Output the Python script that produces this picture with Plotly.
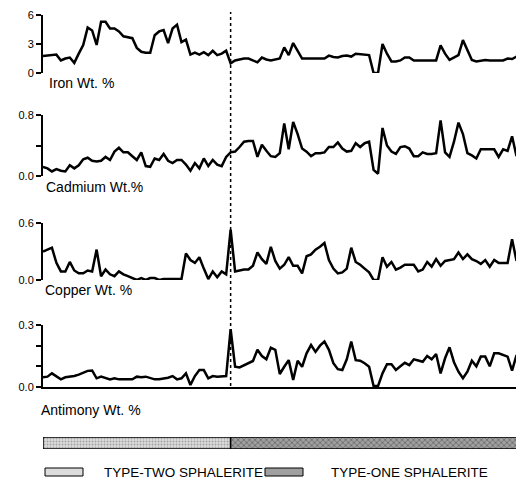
import plotly.graph_objects as go

# ---------------- data (sample index along traverse) ----------------
samples = list(range(108))
boundary_sample = 42  # change from type-two to type-one sphalerite

iron = [1.75, 1.8, 1.85, 1.9, 1.3, 1.5, 1.6, 1.05, 2.0, 2.9,
        4.7, 4.4, 2.9, 5.3, 5.3, 4.6, 4.6, 4.3, 3.8, 3.7,
        3.6, 2.6, 2.2, 2.1, 2.1, 3.9, 4.3, 4.45, 3.1, 4.6,
        5.0, 3.2, 3.45, 1.9, 2.1, 1.9, 2.15, 1.85, 2.3, 1.85,
        2.0, 2.3, 1.0, 1.3, 1.4, 1.5, 1.5, 1.3, 1.1, 1.6,
        1.4, 1.3, 1.4, 1.5, 2.65, 1.85, 3.1, 2.3, 1.5, 1.5,
        1.5, 1.5, 1.5, 1.5, 1.8, 1.65, 1.6, 1.75, 1.8, 1.7,
        2.0, 1.95, 1.9, 1.85, 0.0, 0.0, 3.0, 2.0, 1.2, 1.2,
        1.3, 1.6, 1.6, 1.3, 1.3, 1.3, 1.3, 1.3, 1.3, 2.85,
        2.0, 1.35, 1.6, 1.85, 3.4, 2.3, 1.35, 1.2, 1.3, 1.35,
        1.3, 1.3, 1.25, 1.3, 1.5, 1.45, 1.7, 1.5]

cadmium = [0.12, 0.10, 0.06, 0.09, 0.07, 0.06, 0.14, 0.10, 0.14, 0.22,
           0.24, 0.20, 0.19, 0.20, 0.25, 0.21, 0.32, 0.37, 0.31, 0.31,
           0.26, 0.21, 0.31, 0.13, 0.12, 0.23, 0.21, 0.29, 0.20, 0.17,
           0.21, 0.21, 0.15, 0.07, 0.17, 0.10, 0.23, 0.13, 0.21, 0.15,
           0.13, 0.25, 0.31, 0.32, 0.38, 0.45, 0.46, 0.46, 0.25, 0.41,
           0.33, 0.26, 0.25, 0.30, 0.69, 0.35, 0.71, 0.55, 0.36, 0.32,
           0.26, 0.30, 0.30, 0.31, 0.38, 0.38, 0.44, 0.36, 0.32, 0.33,
           0.43, 0.38, 0.43, 0.45, 0.08, 0.03, 0.63, 0.40, 0.32, 0.29,
           0.38, 0.39, 0.36, 0.26, 0.26, 0.31, 0.29, 0.29, 0.30, 0.73,
           0.31, 0.25, 0.45, 0.70, 0.55, 0.30, 0.27, 0.23, 0.35, 0.35,
           0.35, 0.35, 0.25, 0.35, 0.33, 0.52, 0.26, None]

copper = [0.30, 0.32, 0.34, 0.18, 0.09, 0.09, 0.19, 0.10, 0.07, 0.07,
          0.10, 0.09, 0.32, 0.04, 0.11, 0.06, 0.04, 0.09, 0.06, 0.04,
          0.02, 0.00, 0.02, 0.00, 0.02, 0.02, 0.00, 0.01, 0.01, 0.01,
          0.01, 0.01, 0.28, 0.21, 0.18, 0.24, 0.12, 0.01, 0.09, 0.03,
          0.09, 0.06, 0.53, 0.09, 0.10, 0.11, 0.11, 0.15, 0.29, 0.22,
          0.17, 0.35, 0.20, 0.12, 0.16, 0.24, 0.15, 0.15, 0.07, 0.25,
          0.27, 0.32, 0.35, 0.39, 0.21, 0.12, 0.07, 0.08, 0.12, 0.34,
          0.19, 0.16, 0.12, 0.08, 0.00, 0.00, 0.24, 0.14, 0.19, 0.11,
          0.13, 0.16, 0.16, 0.16, 0.09, 0.11, 0.19, 0.14, 0.22, 0.15,
          0.20, 0.21, 0.22, 0.29, 0.22, 0.27, 0.22, 0.20, 0.17, 0.21,
          0.14, 0.21, 0.18, 0.18, 0.18, 0.43, 0.20, None]

antimony = [0.047, 0.05, 0.066, 0.05, 0.037, 0.047, 0.05, 0.053, 0.06, 0.07,
            0.078, 0.08, 0.042, 0.05, 0.045, 0.037, 0.042, 0.037, 0.037, 0.037,
            0.037, 0.05, 0.047, 0.05, 0.045, 0.037, 0.037, 0.04, 0.045, 0.053,
            0.037, 0.042, 0.066, 0.01, 0.053, 0.082, 0.082, 0.042, 0.053, 0.05,
            0.05, 0.053, 0.28, 0.098, 0.095, 0.105, 0.115, 0.126, 0.18, 0.15,
            0.134, 0.19, 0.18, 0.063, 0.098, 0.13, 0.034, 0.127, 0.098, 0.163,
            0.203, 0.17, 0.20, 0.22, 0.18, 0.115, 0.086, 0.082, 0.134, 0.22,
            0.13, 0.127, 0.115, 0.098, 0.005, 0.005, 0.066, 0.11, 0.11, 0.082,
            0.10, 0.117, 0.106, 0.134, 0.128, 0.122, 0.15, 0.134, 0.16, 0.066,
            0.139, 0.192, 0.12, 0.074, 0.042, 0.074, 0.127, 0.10, 0.147, 0.147,
            0.10, 0.163, 0.163, 0.155, 0.147, 0.079, 0.155, None]

panel_labels = ["Iron Wt. %", "Cadmium Wt.%", "Copper Wt. %", "Antimony Wt. %"]
iron_ticks = [0, 3, 6]
iron_ticktext = ["0", "3", "6"]
cadmium_ticks = [0, 0.4, 0.8]
cadmium_ticktext = ["0.0", "", "0.8"]
copper_ticks = [0, 0.6]
copper_ticktext = ["0.0", "0.6"]
antimony_ticks = [0, 0.1, 0.2, 0.3]
antimony_ticktext = ["0.0", "", "", "0.3"]

sphalerite_types = ["TYPE-TWO SPHALERITE", "TYPE-ONE SPHALERITE"]
type_start = [0, 42]
type_end = [42, 107]

# ---------------- layout helpers ----------------
# page body has an 8px default margin: draw the figure 8px smaller on each side
OFF = 8
W, H = 524 - OFF, 482 - OFF
def py(px):
    return 1 - (px - OFF) / H
def pxx(px):
    return (px - OFF) / W

FONT = "Liberation Sans, Arial, Helvetica, sans-serif"

fig = go.Figure()
series = [iron, cadmium, copper, antimony]
for k, s in enumerate(series):
    suf = "" if k == 0 else str(k + 1)
    fig.add_trace(go.Scatter(
        x=samples, y=s, mode="lines",
        line=dict(color="black", width=2.5),
        xaxis="x" + suf, yaxis="y" + suf,
        showlegend=False, hoverinfo="skip", connectgaps=False))

# sphalerite type bar
fills = [dict(shape=".", fgcolor="#6a6a6a", bgcolor="#dcdcdc", size=3, solidity=0.35),
         dict(shape="x", fgcolor="#3a3a3a", bgcolor="#a0a0a0", size=4, solidity=0.4)]
for t, a, b, f in zip(sphalerite_types, type_start, type_end, fills):
    fig.add_trace(go.Bar(
        x=[b - a], base=[a], y=[0], orientation="h", width=1,
        marker=dict(color=f["bgcolor"], pattern=f, line=dict(color="black", width=1.5)),
        xaxis="x5", yaxis="y5", showlegend=False, hoverinfo="skip", name=t))

xdom = [pxx(43), pxx(521)]
ycommon = dict(showgrid=False, zeroline=False, showline=True, linecolor="black",
               linewidth=2, ticks="outside", ticklen=5, tickwidth=1.5,
               tickcolor="black", fixedrange=True, ticklabeloverflow="allow",
               tickfont=dict(family=FONT, size=11, color="black"))
xhidden = dict(domain=xdom, range=[0, 107], showgrid=False, zeroline=False,
               showline=False, showticklabels=False, ticks="", fixedrange=True)

fig.update_layout(
    width=W, height=H,
    margin=dict(l=0, r=0, t=0, b=0, autoexpand=False),
    paper_bgcolor="white", plot_bgcolor="white",
    barmode="overlay",
    xaxis=dict(anchor="y", **xhidden),
    xaxis2=dict(anchor="y2", **xhidden),
    xaxis3=dict(anchor="y3", **xhidden),
    xaxis4=dict(domain=xdom, range=[0, 107], showgrid=False, zeroline=False,
                showline=True, linecolor="black", linewidth=2,
                showticklabels=False, ticks="", anchor="y4", fixedrange=True),
    xaxis5=dict(anchor="y5", **xhidden),
    yaxis=dict(domain=[py(73), py(15)], range=[0, 6], tickvals=iron_ticks,
               ticktext=iron_ticktext, anchor="x", **ycommon),
    yaxis2=dict(domain=[py(176), py(115)], range=[0, 0.8], tickvals=cadmium_ticks,
                ticktext=cadmium_ticktext, anchor="x2", **ycommon),
    yaxis3=dict(domain=[py(280), py(223)], range=[0, 0.6], tickvals=copper_ticks,
                ticktext=copper_ticktext, anchor="x3", **ycommon),
    yaxis4=dict(domain=[py(387), py(325)], range=[0, 0.3], tickvals=antimony_ticks,
                ticktext=antimony_ticktext, anchor="x4", **ycommon),
    yaxis5=dict(domain=[py(449), py(437)], range=[-0.5, 0.5], visible=False,
                anchor="x5", fixedrange=True),
)

# dotted boundary line
fig.add_shape(type="line", xref="x", yref="paper",
              x0=boundary_sample, x1=boundary_sample, y0=py(386), y1=py(12),
              line=dict(color="black", width=1.5, dash="dot"))

# panel labels
label_pos = [(47, 83), (44, 187), (43, 290), (39, 410)]
for txt, (lx, ly) in zip(panel_labels, label_pos):
    fig.add_annotation(text=txt, xref="paper", yref="paper", x=pxx(lx), y=py(ly),
                       xanchor="left", yanchor="middle", showarrow=False,
                       font=dict(family=FONT, size=14, color="black"))

# legend swatches + texts
sw = [(45, 83, "#dcdcdc"), (265, 303, "#a0a0a0")]
txt_x = [102, 329]
for (x0, x1, c), tx, t in zip(sw, txt_x, sphalerite_types):
    fig.add_shape(type="rect", xref="paper", yref="paper",
                  x0=pxx(x0), x1=pxx(x1), y0=py(476), y1=py(468),
                  fillcolor=c, line=dict(color="black", width=1))
    fig.add_annotation(text=t, xref="paper", yref="paper", x=pxx(tx), y=py(472),
                       xanchor="left", yanchor="middle", showarrow=False,
                       font=dict(family=FONT, size=13.5, color="black"))

fig.write_html("out.html", config={"displayModeBar": False})
